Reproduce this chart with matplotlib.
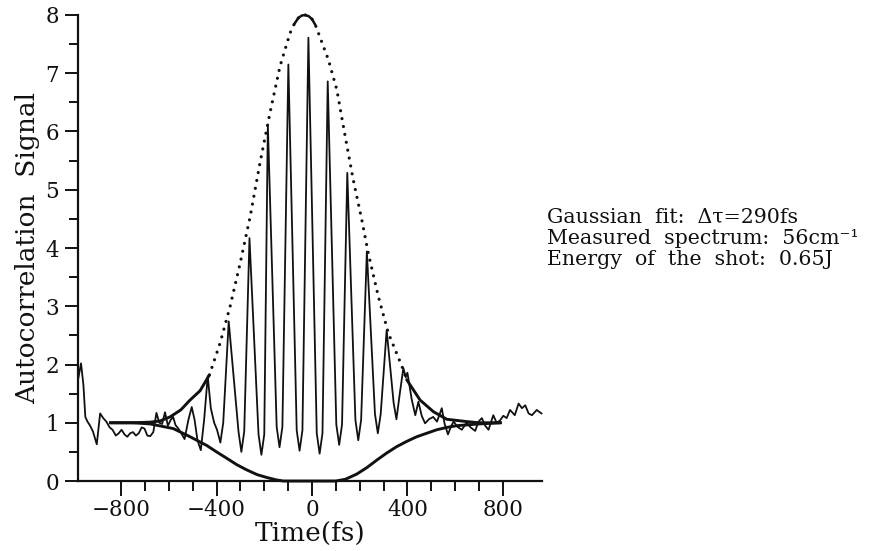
import matplotlib
matplotlib.use("Agg")
import matplotlib.pyplot as plt
import numpy as np
from matplotlib.ticker import FixedLocator

# measured trace: delay (fs) and signal
trace_t = [-980, -968, -958, -950, -941, -930, -918, -902, -888, -875, -862,
           -848, -836, -822, -810, -798, -786, -774, -762, -750, -738, -726,
           -714, -702, -690, -678, -665, -652, -640, -628, -616, -604, -592,
           -582, -572, -560, -548, -534, -518, -504, -492, -480, -466, -452,
           -437, -424, -410, -398, -384, -372, -349, -308, -296, -284, -262,
           -224, -212, -200, -185, -148, -136, -124, -99, -64, -52, -40, -15,
           20, 32, 44, 66, 102, 114, 126, 148, 182, 194, 206, 230, 264, 276,
           288, 313, 342, 354, 368, 383, 393, 400, 418, 433, 446, 460, 474,
           490, 508, 524, 544, 556, 570, 584, 594, 610, 628, 648, 665, 684,
           698, 712, 726, 740, 760, 774, 788, 802, 816, 830, 850, 866, 880,
           894, 908, 922, 942, 962]
trace_s = [1.75, 2.02, 1.65, 1.10, 1.02, 0.95, 0.85, 0.63, 1.16, 1.08, 1.02,
           0.92, 0.88, 0.78, 0.82, 0.88, 0.80, 0.76, 0.82, 0.84, 0.78, 0.82,
           0.92, 0.90, 0.78, 0.77, 0.84, 1.17, 1.00, 0.98, 1.18, 0.95, 1.05,
           1.10, 0.96, 0.90, 0.82, 0.72, 1.05, 1.27, 1.05, 0.70, 0.53, 1.05,
           1.80, 1.25, 1.00, 0.88, 0.66, 1.00, 2.74, 0.85, 0.50, 0.85, 4.17,
           0.80, 0.45, 0.80, 6.12, 0.93, 0.58, 0.93, 7.15, 0.87, 0.52, 0.87,
           7.61, 0.82, 0.47, 0.82, 6.86, 0.97, 0.62, 0.97, 5.29, 1.05, 0.70,
           1.05, 3.94, 1.15, 0.82, 1.15, 2.59, 1.35, 1.06, 1.50, 1.94, 1.78,
           1.86, 1.40, 1.13, 1.36, 1.12, 0.99, 1.06, 1.10, 1.02, 1.25, 0.98,
           0.80, 0.95, 1.02, 0.93, 0.88, 1.00, 0.92, 0.86, 1.02, 1.08, 0.95,
           0.88, 1.13, 1.00, 1.04, 1.12, 1.08, 1.22, 1.13, 1.33, 1.25, 1.30,
           1.16, 1.13, 1.22, 1.16]

# upper envelope of the gaussian fit
env_up_t = [-845, -750, -680, -637, -595, -550, -511, -469, -430, -385, -343,
            -301, -259, -218, -176, -134, -92, -75, -57, -43, -29, -14, 0, 14,
            27, 69, 104, 139, 173, 209, 236, 278, 320, 376, 397, 453, 509,
            565, 649, 700, 790]
env_up_s = [1.00, 1.00, 1.01, 1.03, 1.10, 1.22, 1.39, 1.55, 1.82, 2.37, 3.00,
            3.74, 4.54, 5.46, 6.32, 7.12, 7.69, 7.84, 7.95, 7.99, 8.00, 7.98,
            7.93, 7.83, 7.69, 7.23, 6.72, 5.92, 5.17, 4.48, 3.91, 3.17, 2.54,
            1.98, 1.74, 1.39, 1.19, 1.06, 1.02, 1.00, 1.00]

# lower envelope of the gaussian fit
env_lo_t = [-845, -750, -678, -581, -511, -441, -400, -357, -315, -273, -230,
            -189, -150, -120, 100, 140, 188, 230, 272, 313, 355, 397, 439,
            481, 523, 565, 607, 700, 790]
env_lo_s = [1.00, 1.00, 0.98, 0.90, 0.76, 0.61, 0.50, 0.39, 0.28, 0.19, 0.11,
            0.06, 0.02, 0.00, 0.00, 0.03, 0.12, 0.23, 0.36, 0.48, 0.59, 0.68,
            0.76, 0.82, 0.88, 0.92, 0.95, 0.98, 1.00]

x_major = [-800, -400, 0, 400, 800]
x_minor = list(range(-800, 801, 100))
y_major = list(range(0, 9))
y_minor = [0.5 + i for i in range(8)]

notes = ["Gaussian  fit:  \u0394\u03c4=290fs",
         "Measured  spectrum:  56cm\u207b\u00b9",
         "Energy  of  the  shot:  0.65J"]

plt.rcParams["font.family"] = ["DejaVu Serif"]
ink = "#111111"

fig = plt.figure(figsize=(8.69, 5.51), dpi=100)
ax = fig.add_axes([0.0894, 0.127, 0.534, 0.8458])

ax.plot(trace_t, trace_s, color=ink, lw=1.3, clip_on=False)

# envelope: dots merge into a solid line where the curve is flat
up_t = np.array(env_up_t)
up_s = np.array(env_up_s)
for m, w in [(up_t <= -430, 2.1), ((up_t >= -75) & (up_t <= 14), 1.8),
             (up_t >= 397, 2.1)]:
    ax.plot(up_t[m], up_s[m], color=ink, lw=w, clip_on=False,
            solid_capstyle="round")
core = (up_t >= -430) & (up_t <= 397)
ax.plot(up_t[core], up_s[core], color=ink, lw=2.3, clip_on=False,
        linestyle=(0, (0.01, 2.5)), dash_capstyle="round")
ax.plot(env_lo_t, env_lo_s, color=ink, lw=2.1, clip_on=False)

ax.set_xlim(-982, 963)
ax.set_ylim(0, 8)
for side in ("top", "right"):
    ax.spines[side].set_visible(False)
for side in ("left", "bottom"):
    ax.spines[side].set_linewidth(1.6)
    ax.spines[side].set_color(ink)

ax.xaxis.set_major_locator(FixedLocator(x_major))
ax.xaxis.set_minor_locator(FixedLocator(x_minor))
ax.yaxis.set_major_locator(FixedLocator(y_major))
ax.yaxis.set_minor_locator(FixedLocator(y_minor))
ax.tick_params(axis="x", which="major", length=11, width=1.4, pad=2,
               labelsize=15.5, colors=ink)
ax.tick_params(axis="x", which="minor", length=7.5, width=1.4, colors=ink)
ax.tick_params(axis="y", which="major", length=9.5, width=1.4, pad=4,
               labelsize=15.5, colors=ink)
ax.tick_params(axis="y", which="minor", length=6.5, width=1.4, colors=ink)

ax.set_xlabel("Time(fs)", fontsize=19, labelpad=0, color=ink)
ax.set_ylabel("Autocorrelation  Signal", fontsize=19, labelpad=4, color=ink)

for i, line in enumerate(notes):
    fig.text(547 / 869, 1 - (223 + 21 * i) / 551, line, fontsize=14.8,
             color=ink, ha="left", va="baseline")

fig.savefig("out.png", dpi=100)
